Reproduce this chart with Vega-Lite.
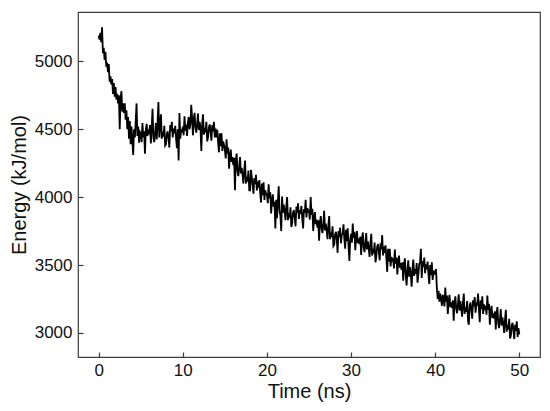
{
  "$schema": "https://vega.github.io/schema/vega-lite/v6.json",
  "width": 462,
  "height": 345,
  "autosize": {"type": "none"},
  "padding": {"left": 78, "top": 12, "right": 10, "bottom": 54},
  "background": "white",
  "config": {
    "view": {"stroke": "#3c3c3c", "strokeWidth": 1.2},
    "font": "Liberation Sans",
    "axis": {
      "grid": false,
      "domain": false,
      "tickColor": "#3c3c3c",
      "tickSize": -5,
      "tickWidth": 1.2,
      "labelFont": "Liberation Sans",
      "labelFontSize": 17,
      "labelColor": "#111",
      "titleFont": "Liberation Sans",
      "titleFontSize": 20,
      "titleFontWeight": "normal",
      "titleColor": "#111"
    }
  },
  "data": {
    "values": [
      {"t":0.0,"e":5190},{"t":0.1,"e":5160},{"t":0.2,"e":5210},{"t":0.3,"e":5140},{"t":0.4,"e":5250},{"t":0.5,"e":5060},{"t":0.6,"e":5100},{"t":0.7,"e":5010},{"t":0.8,"e":5070},{"t":0.9,"e":4960},
      {"t":1.0,"e":4990},{"t":1.1,"e":4920},{"t":1.2,"e":4980},{"t":1.3,"e":4850},{"t":1.4,"e":4890},{"t":1.5,"e":4830},{"t":1.6,"e":4870},{"t":1.7,"e":4760},{"t":1.8,"e":4840},{"t":1.9,"e":4740},
      {"t":2.0,"e":4810},{"t":2.1,"e":4720},{"t":2.2,"e":4760},{"t":2.3,"e":4690},{"t":2.4,"e":4750},{"t":2.5,"e":4500},{"t":2.6,"e":4720},{"t":2.7,"e":4780},{"t":2.8,"e":4630},{"t":2.9,"e":4690},
      {"t":3.0,"e":4620},{"t":3.1,"e":4690},{"t":3.2,"e":4570},{"t":3.3,"e":4640},{"t":3.4,"e":4500},{"t":3.5,"e":4590},{"t":3.6,"e":4430},{"t":3.7,"e":4560},{"t":3.8,"e":4390},{"t":3.9,"e":4520},
      {"t":4.0,"e":4420},{"t":4.1,"e":4310},{"t":4.2,"e":4500},{"t":4.3,"e":4440},{"t":4.4,"e":4560},{"t":4.5,"e":4690},{"t":4.6,"e":4450},{"t":4.7,"e":4520},{"t":4.8,"e":4400},{"t":4.9,"e":4480},
      {"t":5.0,"e":4470},{"t":5.1,"e":4405},{"t":5.2,"e":4545},{"t":5.3,"e":4440},{"t":5.4,"e":4485},{"t":5.5,"e":4320},{"t":5.6,"e":4495},{"t":5.7,"e":4540},{"t":5.8,"e":4450},{"t":5.9,"e":4485},
      {"t":6.0,"e":4475},{"t":6.1,"e":4530},{"t":6.2,"e":4395},{"t":6.3,"e":4515},{"t":6.4,"e":4650},{"t":6.5,"e":4440},{"t":6.6,"e":4405},{"t":6.7,"e":4470},{"t":6.8,"e":4545},{"t":6.9,"e":4425},
      {"t":7.0,"e":4555},{"t":7.1,"e":4700},{"t":7.2,"e":4440},{"t":7.3,"e":4540},{"t":7.4,"e":4610},{"t":7.5,"e":4430},{"t":7.6,"e":4480},{"t":7.7,"e":4445},{"t":7.8,"e":4525},{"t":7.9,"e":4380},
      {"t":8.0,"e":4390},{"t":8.1,"e":4465},{"t":8.2,"e":4485},{"t":8.3,"e":4430},{"t":8.4,"e":4365},{"t":8.5,"e":4530},{"t":8.6,"e":4485},{"t":8.7,"e":4555},{"t":8.8,"e":4440},{"t":8.9,"e":4505},
      {"t":9.0,"e":4470},{"t":9.1,"e":4525},{"t":9.2,"e":4430},{"t":9.3,"e":4360},{"t":9.4,"e":4500},{"t":9.5,"e":4270},{"t":9.6,"e":4620},{"t":9.7,"e":4430},{"t":9.8,"e":4500},{"t":9.9,"e":4475},
      {"t":10.0,"e":4520},{"t":10.1,"e":4455},{"t":10.2,"e":4595},{"t":10.3,"e":4490},{"t":10.4,"e":4535},{"t":10.5,"e":4450},{"t":10.6,"e":4545},{"t":10.7,"e":4590},{"t":10.8,"e":4500},{"t":10.9,"e":4535},
      {"t":11.0,"e":4680},{"t":11.1,"e":4590},{"t":11.2,"e":4455},{"t":11.3,"e":4575},{"t":11.4,"e":4620},{"t":11.5,"e":4510},{"t":11.6,"e":4475},{"t":11.7,"e":4540},{"t":11.8,"e":4615},{"t":11.9,"e":4495},
      {"t":12.0,"e":4555},{"t":12.1,"e":4505},{"t":12.2,"e":4340},{"t":12.3,"e":4540},{"t":12.4,"e":4610},{"t":12.5,"e":4460},{"t":12.6,"e":4510},{"t":12.7,"e":4475},{"t":12.8,"e":4555},{"t":12.9,"e":4410},
      {"t":13.0,"e":4440},{"t":13.1,"e":4515},{"t":13.2,"e":4535},{"t":13.3,"e":4480},{"t":13.4,"e":4415},{"t":13.5,"e":4530},{"t":13.6,"e":4485},{"t":13.7,"e":4555},{"t":13.8,"e":4440},{"t":13.9,"e":4505},
      {"t":14.0,"e":4440},{"t":14.1,"e":4495},{"t":14.2,"e":4400},{"t":14.3,"e":4330},{"t":14.4,"e":4470},{"t":14.5,"e":4375},{"t":14.6,"e":4470},{"t":14.7,"e":4340},{"t":14.8,"e":4410},{"t":14.9,"e":4385},
      {"t":15.0,"e":4350},{"t":15.1,"e":4285},{"t":15.2,"e":4425},{"t":15.3,"e":4320},{"t":15.4,"e":4365},{"t":15.5,"e":4210},{"t":15.6,"e":4305},{"t":15.7,"e":4350},{"t":15.8,"e":4260},{"t":15.9,"e":4295},
      {"t":16.0,"e":4235},{"t":16.1,"e":4290},{"t":16.2,"e":4050},{"t":16.3,"e":4275},{"t":16.4,"e":4320},{"t":16.5,"e":4190},{"t":16.6,"e":4155},{"t":16.7,"e":4220},{"t":16.8,"e":4295},{"t":16.9,"e":4175},
      {"t":17.0,"e":4215},{"t":17.1,"e":4165},{"t":17.2,"e":4100},{"t":17.3,"e":4200},{"t":17.4,"e":4270},{"t":17.5,"e":4100},{"t":17.6,"e":4150},{"t":17.7,"e":4115},{"t":17.8,"e":4195},{"t":17.9,"e":4050},
      {"t":18.0,"e":4050},{"t":18.1,"e":4200},{"t":18.2,"e":4145},{"t":18.3,"e":4090},{"t":18.4,"e":4025},{"t":18.5,"e":4140},{"t":18.6,"e":4095},{"t":18.7,"e":4165},{"t":18.8,"e":4050},{"t":18.9,"e":4115},
      {"t":19.0,"e":4070},{"t":19.1,"e":4125},{"t":19.2,"e":4030},{"t":19.3,"e":3960},{"t":19.4,"e":4100},{"t":19.5,"e":4015},{"t":19.6,"e":4110},{"t":19.7,"e":3980},{"t":19.8,"e":4050},{"t":19.9,"e":4025},
      {"t":20.0,"e":4020},{"t":20.1,"e":3955},{"t":20.2,"e":4095},{"t":20.3,"e":3990},{"t":20.4,"e":4035},{"t":20.5,"e":3880},{"t":20.6,"e":3975},{"t":20.7,"e":4020},{"t":20.8,"e":3930},{"t":20.9,"e":3965},
      {"t":21.0,"e":3770},{"t":21.1,"e":3980},{"t":21.2,"e":3845},{"t":21.3,"e":3965},{"t":21.4,"e":4080},{"t":21.5,"e":3900},{"t":21.6,"e":3865},{"t":21.7,"e":3750},{"t":21.8,"e":4005},{"t":21.9,"e":3885},
      {"t":22.0,"e":3945},{"t":22.1,"e":3895},{"t":22.2,"e":3830},{"t":22.3,"e":3930},{"t":22.4,"e":4000},{"t":22.5,"e":3830},{"t":22.6,"e":3880},{"t":22.7,"e":3845},{"t":22.8,"e":3925},{"t":22.9,"e":3780},
      {"t":23.0,"e":3810},{"t":23.1,"e":3885},{"t":23.2,"e":3905},{"t":23.3,"e":3850},{"t":23.4,"e":3785},{"t":23.5,"e":3930},{"t":23.6,"e":3885},{"t":23.7,"e":3955},{"t":23.8,"e":3840},{"t":23.9,"e":3905},
      {"t":24.0,"e":3880},{"t":24.1,"e":3935},{"t":24.2,"e":3840},{"t":24.3,"e":3770},{"t":24.4,"e":3910},{"t":24.5,"e":3885},{"t":24.6,"e":3980},{"t":24.7,"e":3850},{"t":24.8,"e":3920},{"t":24.9,"e":3895},
      {"t":25.0,"e":3900},{"t":25.1,"e":3835},{"t":25.2,"e":4000},{"t":25.3,"e":3870},{"t":25.4,"e":3915},{"t":25.5,"e":3750},{"t":25.6,"e":3845},{"t":25.7,"e":3890},{"t":25.8,"e":3800},{"t":25.9,"e":3835},
      {"t":26.0,"e":3775},{"t":26.1,"e":3830},{"t":26.2,"e":3680},{"t":26.3,"e":3815},{"t":26.4,"e":3860},{"t":26.5,"e":3770},{"t":26.6,"e":3735},{"t":26.7,"e":3800},{"t":26.8,"e":3900},{"t":26.9,"e":3755},
      {"t":27.0,"e":3805},{"t":27.1,"e":3755},{"t":27.2,"e":3690},{"t":27.3,"e":3790},{"t":27.4,"e":3860},{"t":27.5,"e":3690},{"t":27.6,"e":3740},{"t":27.7,"e":3705},{"t":27.8,"e":3785},{"t":27.9,"e":3640},
      {"t":28.0,"e":3650},{"t":28.1,"e":3725},{"t":28.2,"e":3745},{"t":28.3,"e":3690},{"t":28.4,"e":3590},{"t":28.5,"e":3750},{"t":28.6,"e":3705},{"t":28.7,"e":3775},{"t":28.8,"e":3660},{"t":28.9,"e":3725},
      {"t":29.0,"e":3730},{"t":29.1,"e":3800},{"t":29.2,"e":3690},{"t":29.3,"e":3620},{"t":29.4,"e":3760},{"t":29.5,"e":3675},{"t":29.6,"e":3770},{"t":29.7,"e":3640},{"t":29.8,"e":3530},{"t":29.9,"e":3685},
      {"t":30.0,"e":3730},{"t":30.1,"e":3665},{"t":30.2,"e":3805},{"t":30.3,"e":3700},{"t":30.4,"e":3745},{"t":30.5,"e":3610},{"t":30.6,"e":3705},{"t":30.7,"e":3750},{"t":30.8,"e":3660},{"t":30.9,"e":3695},
      {"t":31.0,"e":3655},{"t":31.1,"e":3710},{"t":31.2,"e":3575},{"t":31.3,"e":3695},{"t":31.4,"e":3740},{"t":31.5,"e":3630},{"t":31.6,"e":3595},{"t":31.7,"e":3660},{"t":31.8,"e":3735},{"t":31.9,"e":3615},
      {"t":32.0,"e":3675},{"t":32.1,"e":3625},{"t":32.2,"e":3560},{"t":32.3,"e":3660},{"t":32.4,"e":3730},{"t":32.5,"e":3570},{"t":32.6,"e":3620},{"t":32.7,"e":3585},{"t":32.8,"e":3665},{"t":32.9,"e":3520},
      {"t":33.0,"e":3560},{"t":33.1,"e":3635},{"t":33.2,"e":3655},{"t":33.3,"e":3600},{"t":33.4,"e":3535},{"t":33.5,"e":3660},{"t":33.6,"e":3615},{"t":33.7,"e":3720},{"t":33.8,"e":3570},{"t":33.9,"e":3635},
      {"t":34.0,"e":3590},{"t":34.1,"e":3645},{"t":34.2,"e":3550},{"t":34.3,"e":3450},{"t":34.4,"e":3620},{"t":34.5,"e":3525},{"t":34.6,"e":3620},{"t":34.7,"e":3490},{"t":34.8,"e":3560},{"t":34.9,"e":3535},
      {"t":35.0,"e":3540},{"t":35.1,"e":3475},{"t":35.2,"e":3615},{"t":35.3,"e":3510},{"t":35.4,"e":3555},{"t":35.5,"e":3430},{"t":35.6,"e":3525},{"t":35.7,"e":3570},{"t":35.8,"e":3480},{"t":35.9,"e":3515},
      {"t":36.0,"e":3465},{"t":36.1,"e":3520},{"t":36.2,"e":3385},{"t":36.3,"e":3505},{"t":36.4,"e":3550},{"t":36.5,"e":3430},{"t":36.6,"e":3350},{"t":36.7,"e":3460},{"t":36.8,"e":3535},{"t":36.9,"e":3415},
      {"t":37.0,"e":3485},{"t":37.1,"e":3435},{"t":37.2,"e":3340},{"t":37.3,"e":3470},{"t":37.4,"e":3540},{"t":37.5,"e":3420},{"t":37.6,"e":3470},{"t":37.7,"e":3435},{"t":37.8,"e":3515},{"t":37.9,"e":3370},
      {"t":38.0,"e":3430},{"t":38.1,"e":3505},{"t":38.2,"e":3525},{"t":38.3,"e":3620},{"t":38.4,"e":3405},{"t":38.5,"e":3530},{"t":38.6,"e":3485},{"t":38.7,"e":3555},{"t":38.8,"e":3440},{"t":38.9,"e":3505},
      {"t":39.0,"e":3470},{"t":39.1,"e":3525},{"t":39.2,"e":3430},{"t":39.3,"e":3360},{"t":39.4,"e":3500},{"t":39.5,"e":3425},{"t":39.6,"e":3520},{"t":39.7,"e":3390},{"t":39.8,"e":3460},{"t":39.9,"e":3435},
      {"t":40.0,"e":3440},{"t":40.1,"e":3470},{"t":40.2,"e":3330},{"t":40.3,"e":3250},{"t":40.4,"e":3310},{"t":40.5,"e":3230},{"t":40.6,"e":3290},{"t":40.7,"e":3250},{"t":40.8,"e":3200},{"t":40.9,"e":3280},
      {"t":41.0,"e":3260},{"t":41.1,"e":3195},{"t":41.2,"e":3335},{"t":41.3,"e":3230},{"t":41.4,"e":3275},{"t":41.5,"e":3140},{"t":41.6,"e":3235},{"t":41.7,"e":3280},{"t":41.8,"e":3190},{"t":41.9,"e":3225},
      {"t":42.0,"e":3185},{"t":42.1,"e":3240},{"t":42.2,"e":3090},{"t":42.3,"e":3225},{"t":42.4,"e":3270},{"t":42.5,"e":3180},{"t":42.6,"e":3145},{"t":42.7,"e":3210},{"t":42.8,"e":3285},{"t":42.9,"e":3165},
      {"t":43.0,"e":3235},{"t":43.1,"e":3185},{"t":43.2,"e":3120},{"t":43.3,"e":3220},{"t":43.4,"e":3290},{"t":43.5,"e":3140},{"t":43.6,"e":3190},{"t":43.7,"e":3155},{"t":43.8,"e":3235},{"t":43.9,"e":3090},
      {"t":44.0,"e":3060},{"t":44.1,"e":3205},{"t":44.2,"e":3225},{"t":44.3,"e":3170},{"t":44.4,"e":3105},{"t":44.5,"e":3240},{"t":44.6,"e":3195},{"t":44.7,"e":3265},{"t":44.8,"e":3150},{"t":44.9,"e":3215},
      {"t":45.0,"e":3210},{"t":45.1,"e":3290},{"t":45.2,"e":3170},{"t":45.3,"e":3080},{"t":45.4,"e":3240},{"t":45.5,"e":3175},{"t":45.6,"e":3270},{"t":45.7,"e":3140},{"t":45.8,"e":3210},{"t":45.9,"e":3185},
      {"t":46.0,"e":3200},{"t":46.1,"e":3135},{"t":46.2,"e":3275},{"t":46.3,"e":3170},{"t":46.4,"e":3215},{"t":46.5,"e":3060},{"t":46.6,"e":3155},{"t":46.7,"e":3200},{"t":46.8,"e":3110},{"t":46.9,"e":3145},
      {"t":47.0,"e":3105},{"t":47.1,"e":3160},{"t":47.2,"e":3025},{"t":47.3,"e":3145},{"t":47.4,"e":3190},{"t":47.5,"e":3070},{"t":47.6,"e":3035},{"t":47.7,"e":3100},{"t":47.8,"e":3175},{"t":47.9,"e":3055},
      {"t":48.0,"e":3115},{"t":48.1,"e":3065},{"t":48.2,"e":3000},{"t":48.3,"e":3100},{"t":48.4,"e":3170},{"t":48.5,"e":3010},{"t":48.6,"e":3060},{"t":48.7,"e":3025},{"t":48.8,"e":3105},{"t":48.9,"e":2960},
      {"t":49.0,"e":2980},{"t":49.1,"e":3055},{"t":49.2,"e":3075},{"t":49.3,"e":3020},{"t":49.4,"e":2955},{"t":49.5,"e":3060},{"t":49.6,"e":3015},{"t":49.7,"e":3085},{"t":49.8,"e":2970},{"t":49.9,"e":3035},
      {"t":50.0,"e":2990}
    ]
  },
  "mark": {"type": "line", "color": "black", "strokeWidth": 1.8, "clip": true},
  "encoding": {
    "x": {
      "field": "t",
      "type": "quantitative",
      "title": "Time (ns)",
      "scale": {"domain": [-2.46, 52.46], "nice": false, "zero": false},
      "axis": {"values": [0, 10, 20, 30, 40, 50], "format": "d", "labelPadding": 10, "titlePadding": 3}
    },
    "y": {
      "field": "e",
      "type": "quantitative",
      "title": "Energy (kJ/mol)",
      "scale": {"domain": [2823, 5363], "nice": false, "zero": false},
      "axis": {"values": [3000, 3500, 4000, 4500, 5000], "format": "d", "labelPadding": 11, "titlePadding": 5}
    }
  }
}
